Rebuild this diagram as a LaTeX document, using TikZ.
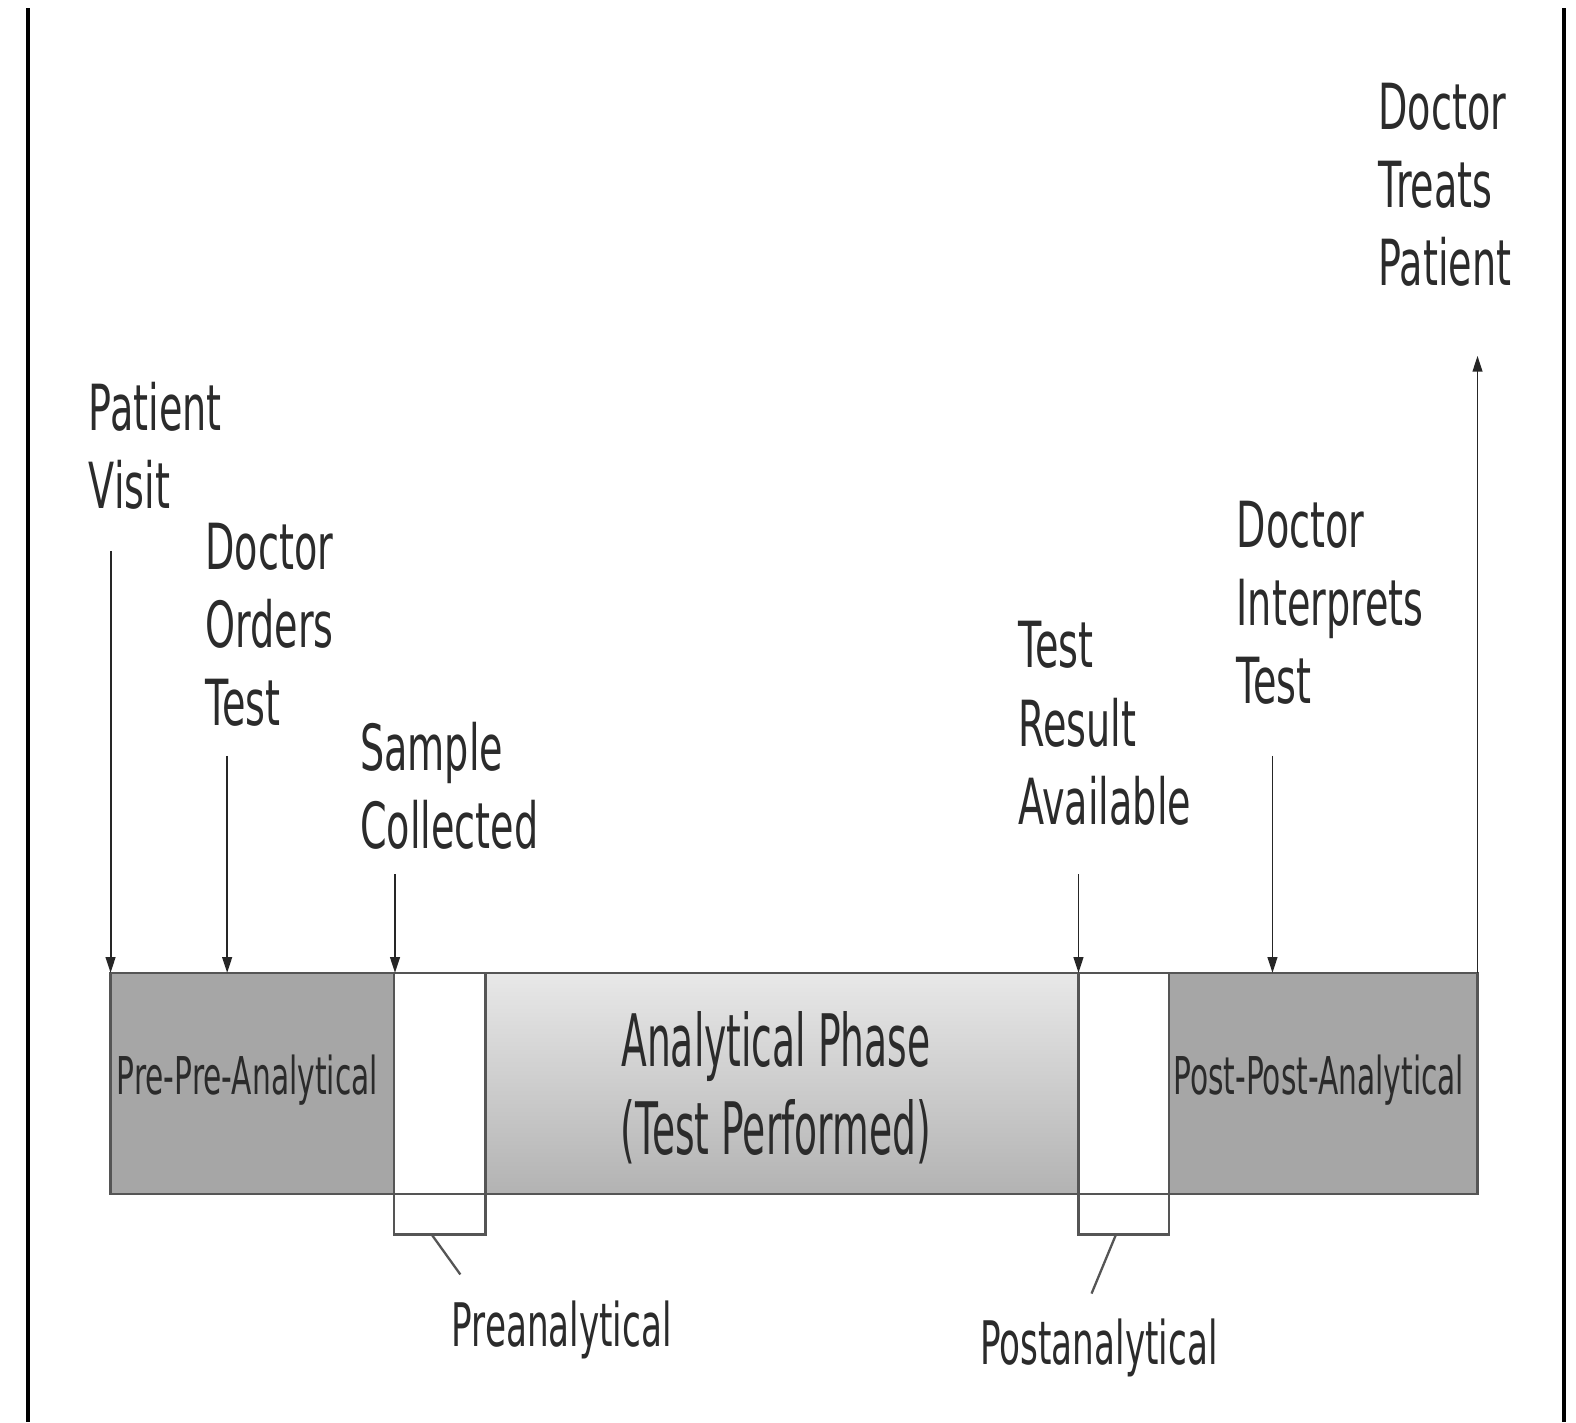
\documentclass[tikz,border=0pt]{standalone}
\usepackage{fontspec}
\usetikzlibrary{arrows.meta}
\newfontfamily\lab[FakeStretch=0.6]{DejaVu Sans}
\newfontfamily\labn[FakeStretch=0.52]{DejaVu Sans}
\newfontfamily\labs[FakeStretch=0.57]{DejaVu Sans}
\definecolor{bardark}{HTML}{A6A6A6}
\definecolor{edge}{HTML}{555555}
\definecolor{ink}{HTML}{2B2B2B}
\tikzset{
  lbl/.style={font=\lab\fontsize{36}{44.3}\selectfont, align=left, inner sep=0pt, anchor=north west, text=ink},
  phase/.style={font=\labs\fontsize{29.5}{34}\selectfont, inner sep=0pt, text=ink},
  sublbl/.style={font=\labs\fontsize{34}{40}\selectfont, inner sep=0pt, anchor=north west, text=ink},
  event/.style={-{Triangle[length=9pt,width=5.5pt]}, line width=1.1pt, draw=black!85},
  barline/.style={draw=edge, line width=1.6pt},
  leader/.style={draw=edge, line width=1.3pt}
}
\begin{document}
\begin{tikzpicture}[x=0.02cm, y=-0.02cm]
  \useasboundingbox (0,0) rectangle (1568,1415);
  \fill[white] (0,0) rectangle (1568,1415);
  % frame edges
  \draw[line width=2.4pt, black] (28,8) -- (28,1415);
  \draw[line width=2.4pt, black] (1556,8) -- (1556,1415);

  % timeline bar
  \fill[bardark] (110,968) rectangle (392,1188);
  \fill[bardark] (1163,968) rectangle (1470,1188);
  \shade[top color=black!9, bottom color=black!30] (483,968) rectangle (1073,1188);
  \fill[white] (392,968) rectangle (483,1228);
  \fill[white] (1073,968) rectangle (1163,1228);
  \draw[barline] (110,968) rectangle (1470,1188);
  \draw[barline] (392,968) -- (392,1228) -- (483,1228) -- (483,968);
  \draw[barline] (1073,968) -- (1073,1228) -- (1163,1228) -- (1163,968);

  % phase labels
  \node[phase] (ppa) at (246,1075) {Pre-Pre-Analytical};
  \node[phase] (ppost) at (1312,1075) {Post-Post-Analytical};
  \node[font=\labn\fontsize{41}{50}\selectfont, align=center, inner sep=0pt, text=ink] (ana) at (772,1082) {Analytical Phase\\(Test Performed)};
  \node[sublbl] (pre) at (449,1294) {Preanalytical};
  \node[sublbl] (post) at (975,1312) {Postanalytical};

  % leader lines to the two short phases
  \coordinate (preTop) at (430,1229);
  \coordinate (preEnd) at (458,1268);
  \coordinate (postTop) at (1110,1229);
  \coordinate (postEnd) at (1086,1287);
  \draw[leader] (preTop) -- (preEnd);
  \draw[leader] (postTop) -- (postEnd);

  % event labels
  \node[lbl] (visit) at (88,380) {Patient\\Visit};
  \node[lbl] (orders) at (204,520) {Doctor\\Orders\\Test};
  \node[lbl] (sample) at (358,718) {Sample\\Collected};
  \node[lbl] (result) at (1013,618) {Test\\Result\\Available};
  \node[lbl] (interp) at (1230,498) {Doctor\\Interprets\\Test};
  \node[lbl] (treats) at (1371,82) {Doctor\\Treats\\Patient};

  % event arrows
  \coordinate (aVisit) at (110,548);   \coordinate (bVisit) at (110,968);
  \coordinate (aOrders) at (226,752);  \coordinate (bOrders) at (226,968);
  \coordinate (aSample) at (393,870);  \coordinate (bSample) at (393,968);
  \coordinate (aResult) at (1073,870); \coordinate (bResult) at (1073,968);
  \coordinate (aInterp) at (1266,752); \coordinate (bInterp) at (1266,968);
  \coordinate (aTreats) at (1470,968); \coordinate (bTreats) at (1470,354);
  \draw[event] (aVisit) -- (bVisit);
  \draw[event] (aOrders) -- (bOrders);
  \draw[event] (aSample) -- (bSample);
  \draw[event] (aResult) -- (bResult);
  \draw[event] (aInterp) -- (bInterp);
  \draw[event] (aTreats) -- (bTreats);
\end{tikzpicture}
\end{document}
